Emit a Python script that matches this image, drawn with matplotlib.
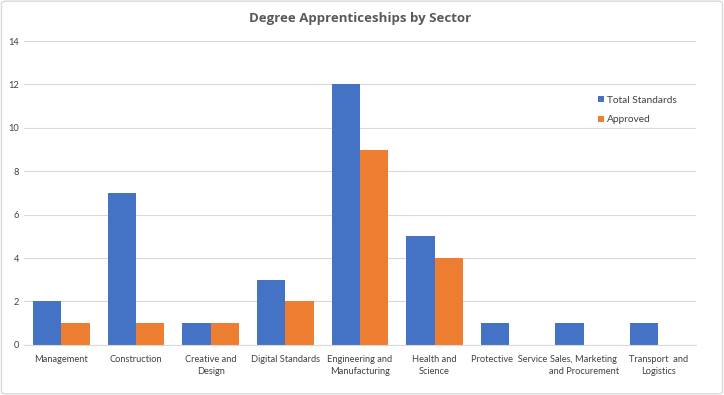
import matplotlib.pyplot as plt
import numpy as np
from matplotlib.patches import FancyBboxPatch

# data
sectors = ["Management", "Construction", "Creative and\nDesign", "Digital Standards",
           "Engineering and\nManufacturing", "Health and\nScience", "Protective  Service",
           "Sales, Marketing\nand Procurement", "Transport  and\nLogistics"]
total_standards = [2, 7, 1, 3, 12, 5, 1, 1, 1]
approved = [1, 1, 1, 2, 9, 4, 0, 0, 0]

plt.rcParams['font.family'] = ['Lato', 'DejaVu Sans']

fig = plt.figure(figsize=(7.24, 3.95), dpi=100)
ax = fig.add_axes([0.0334, 0.127, 0.9274, 0.769])

x = np.arange(len(sectors))
w = 0.38
ax.bar(x - w / 2, total_standards, w, color="#4472C4", label="Total Standards")
ax.bar(x + w / 2, approved, w, color="#ED7D31", label="Approved")

ax.set_xlim(-0.5, len(sectors) - 0.5)
ax.set_ylim(0, 14)
ax.set_yticks(range(0, 15, 2))
ax.yaxis.grid(True, color="#d9d9d9", linewidth=0.8)
ax.set_axisbelow(True)
for s in ["top", "right", "left"]:
    ax.spines[s].set_visible(False)
ax.spines["bottom"].set_color("#d9d9d9")
ax.tick_params(axis="both", length=0, labelsize=6.7, colors="#404040")
ax.tick_params(axis="x", pad=7)
ax.set_xticks(x)
ax.set_xticklabels(sectors, fontsize=6.7, linespacing=1.45)

ax.set_title("Degree Apprenticeships by Sector", fontsize=9.5, fontweight="bold",
             color="#595959", pad=14, family=["Open Sans", "DejaVu Sans"])

ax.legend(loc="upper left", bbox_to_anchor=(0.841, 0.85), frameon=False, fontsize=7.3,
          handlelength=0.6, handleheight=0.6, handletextpad=0.3, labelspacing=1.05,
          labelcolor="#404040")

# chart border
fig.patches.append(FancyBboxPatch((0.002, 0.003), 0.996, 0.994,
                                  boxstyle="round,pad=0,rounding_size=0.006",
                                  transform=fig.transFigure, fill=False,
                                  edgecolor="#d9d9d9", linewidth=1))

fig.savefig("out.png", dpi=100)
